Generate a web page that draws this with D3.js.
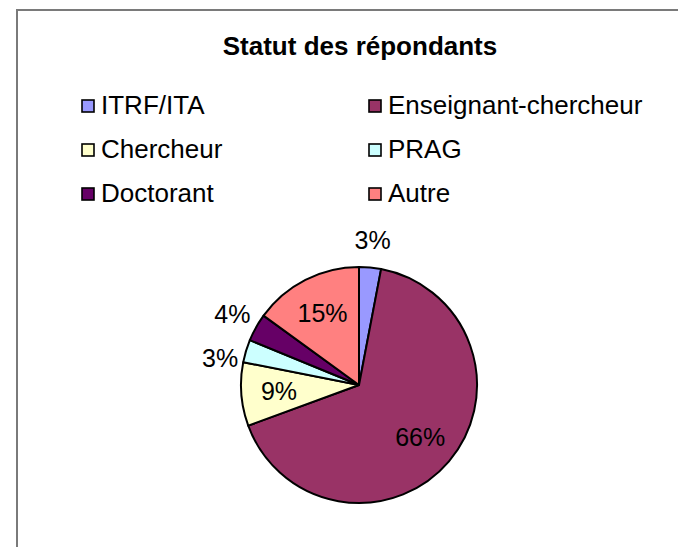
<!DOCTYPE html>
<html>
<head>
<meta charset="utf-8">
<script src="https://cdn.jsdelivr.net/npm/d3@7"></script>
<style>
  body { margin: 0; background: #fff; }
  svg { display: block; font-family: "Liberation Sans", Arial, sans-serif; }
</style>
</head>
<body>
<div id="chart"></div>
<script>
// data (share of respondents, %)
var categories = ["ITRF/ITA", "Enseignant-chercheur", "Chercheur", "PRAG", "Doctorant", "Autre"]
var values = [3, 66.4, 8.7, 3.1, 3.8, 15]
var colors = ["#9999FF", "#993366", "#FFFFCC", "#CCFFFF", "#660066", "#FF8080"]
// slices whose label sits outside the pie
var outsideLabel = [true, false, false, true, true, false]

var width = 678, height = 547
var svg = d3.select("#chart").append("svg")
  .attr("width", width)
  .attr("height", height)

// chart area border (right and bottom fall outside the window)
svg.append("rect")
  .attr("x", 17).attr("y", 10)
  .attr("width", 700).attr("height", 600)
  .attr("fill", "#fff")
  .attr("stroke", "#7a7a7a")
  .attr("stroke-width", 2)

svg.append("text")
  .attr("x", 360).attr("y", 55)
  .attr("text-anchor", "middle")
  .attr("font-size", 26)
  .attr("font-weight", "bold")
  .text("Statut des répondants")

// legend, two columns
var legend = svg.append("g")
var item = legend.selectAll("g")
  .data(categories)
  .enter()
  .append("g")
  .attr("transform", (d, i) => "translate(" + (i % 2 === 0 ? 82 : 369) + "," + (100 + Math.floor(i / 2) * 44) + ")")

item.append("rect")
  .attr("width", 12).attr("height", 12)
  .attr("fill", (d, i) => colors[i])
  .attr("stroke", "#000")
  .attr("stroke-width", 1.6)

item.append("text")
  .attr("x", 19).attr("y", 14)
  .attr("font-size", 26)
  .text(d => d)

// pie
var cx = 359, cy = 385, radius = 118
var pie = d3.pie().sort(null).value(d => d)
var arcs = pie(values)
var arc = d3.arc().innerRadius(0).outerRadius(radius)
var inLabel = d3.arc().innerRadius(radius * 0.68).outerRadius(radius * 0.68)
var outLabel = d3.arc().innerRadius(radius + 27).outerRadius(radius + 27)

var g = svg.append("g").attr("transform", "translate(" + cx + "," + cy + ")")

g.selectAll("path")
  .data(arcs)
  .enter()
  .append("path")
  .attr("d", arc)
  .attr("fill", (d, i) => colors[i])
  .attr("stroke", "#000")
  .attr("stroke-width", 2)
  .attr("stroke-linejoin", "round")

// label positions, outside labels on the same side pushed apart
var total = d3.sum(values)
var labels = arcs.map((d, i) => {
  var p = (outsideLabel[i] ? outLabel : inLabel).centroid(d)
  return { x: p[0], y: p[1], out: outsideLabel[i], text: Math.round(d.value / total * 100) + "%" }
})
var leftOut = labels.filter(l => l.out && l.x < 0).sort((a, b) => a.y - b.y)
for (var k = 1; k < leftOut.length; k++) {
  if (leftOut[k].y - leftOut[k - 1].y < 44) leftOut[k].y = leftOut[k - 1].y + 44
}

g.selectAll("text")
  .data(labels)
  .enter()
  .append("text")
  .attr("x", d => d.x)
  .attr("y", d => d.y)
  .attr("text-anchor", "middle")
  .attr("dy", "0.35em")
  .attr("font-size", 25)
  .text(d => d.text)
</script>
</body>
</html>
